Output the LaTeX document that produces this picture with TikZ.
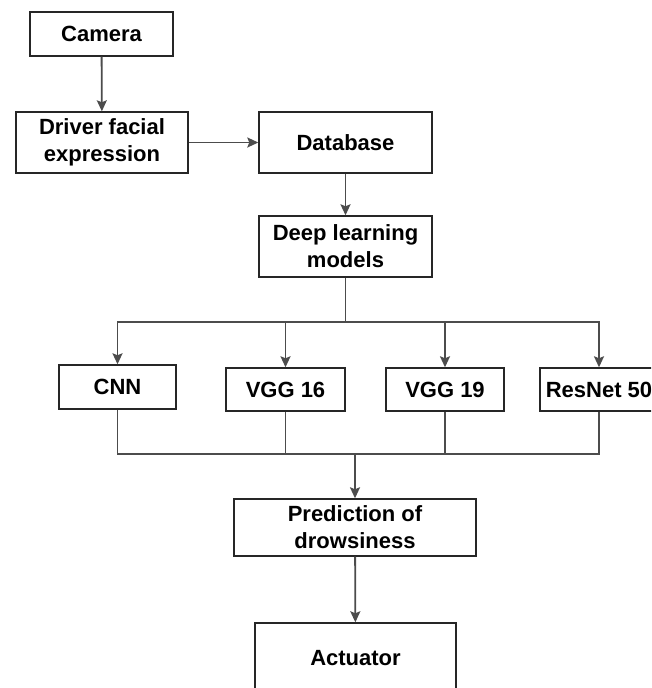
\documentclass[tikz,border=0pt]{standalone}
\usepackage{fontspec}
\setmainfont{Liberation Sans}
\usetikzlibrary{arrows.meta}
\begin{document}
\begin{tikzpicture}[x=1pt,y=-1pt,
  box/.style={draw=black!85,line width=1.4pt,fill=white,inner sep=0pt,align=center,
    font=\fontsize{22}{27}\selectfont\bfseries},
  conn/.style={draw=black!70,line width=1.8pt},
  arr/.style={conn,-{Stealth[length=11pt,width=10pt,inset=2pt]}}]
\clip (0,0) rectangle (651,688);
\fill[white] (0,0) rectangle (651,688);
\node[box,minimum width=143pt,minimum height=44pt] (cam) at (101.5,34) {Camera};
\node[box,minimum width=172pt,minimum height=61pt] (drv) at (102,142.5) {Driver facial\\expression};
\node[box,minimum width=173pt,minimum height=61pt] (db) at (345.5,142.5) {Database};
\node[box,minimum width=173pt,minimum height=61pt] (dl) at (345.5,246.5) {Deep learning\\models};
\node[box,minimum width=117pt,minimum height=44pt] (cnn) at (117.5,387) {CNN};
\node[box,minimum width=119pt,minimum height=43pt] (v16) at (285.5,389.5) {VGG 16};
\node[box,minimum width=118pt,minimum height=43pt] (v19) at (445,389.5) {VGG 19};
\node[box,minimum width=118pt,minimum height=43pt] (res) at (599,389.5) {ResNet 50};
\node[box,minimum width=242pt,minimum height=57pt] (pred) at (355,527.5) {Prediction of\\drowsiness};
\node[box,minimum width=201pt,minimum height=70pt] (act) at (355.5,658) {Actuator};
\coordinate (top) at (345.5,322);
\coordinate (bot) at (355,454);
\draw[arr] (cam) -- (drv);
\draw[arr] (drv) -- (db);
\draw[arr] (db) -- (dl);
\draw[conn] (dl.south) -- (top);
\draw[arr] (top) -| (cnn.north);
\draw[arr] (top) -| (v16.north);
\draw[arr] (top) -| (v19.north);
\draw[arr] (top) -| (res.north);
\draw[conn] (cnn.south) |- (bot);
\draw[conn] (v16.south) |- (bot);
\draw[conn] (v19.south) |- (bot);
\draw[conn] (res.south) |- (bot);
\draw[arr] (bot) -- (pred.north);
\draw[arr] (pred) -- (act);
\end{tikzpicture}
\end{document}
